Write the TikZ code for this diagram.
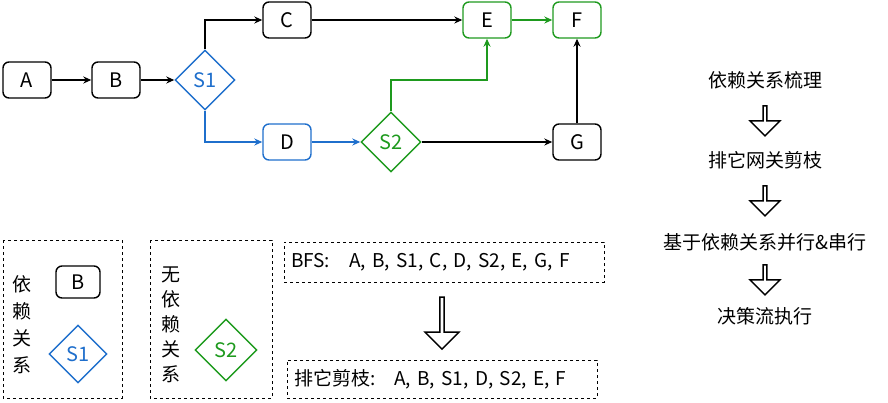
\documentclass[tikz,border=0pt]{standalone}
\usepackage{fontspec}
\setmainfont{Noto Sans CJK SC}
\usetikzlibrary{shapes.geometric,shapes.arrows,arrows.meta}
\definecolor{bl}{HTML}{1F6FCC}
\definecolor{gr}{HTML}{1E9A1E}
\begin{document}
\begin{tikzpicture}[x=1pt,y=-1pt,
  box/.style={draw,rounded corners=6pt,line width=1.4pt,minimum width=48pt,minimum height=36pt,font=\fontsize{20}{20}\selectfont},
  dia/.style={draw,diamond,line width=1.4pt,minimum width=60pt,minimum height=60pt,inner sep=0pt,font=\fontsize{20}{20}\selectfont},
  ln/.style={line width=1.4pt,-{Stealth[length=8pt,width=7pt]}},
  txt/.style={font=\fontsize{19}{19}\selectfont},
  harrow/.style={draw,single arrow,shape border rotate=270,line width=1.4pt,minimum height=30pt,minimum width=30pt,single arrow head extend=5pt,inner sep=0pt},
  dbox/.style={draw,dashed,line width=1pt}]
\useasboundingbox (0,0) rectangle (888,402);
\node[box] (A) at (27,80) {A};
\node[box] (B) at (116,80) {B};
\node[dia,draw=bl,text=bl] (S1) at (205,80) {S1};
\node[box] (C) at (287,20) {C};
\node[box,draw=bl] (D) at (287,142) {D};
\node[dia,draw=gr,text=gr] (S2) at (391,142) {S2};
\node[box,draw=gr] (E) at (487,20) {E};
\node[box,draw=gr] (F) at (577,20) {F};
\node[box] (G) at (577,142) {G};
\draw[ln] (A) -- (B);
\draw[ln] (B) -- (S1);
\draw[ln] (S1.north) |- (C);
\draw[ln,bl] (S1.south) |- (D);
\draw[ln,bl] (D) -- (S2);
\draw[ln,gr] (S2.north) -- (391,80) -| (E.south);
\draw[ln] (S2) -- (G);
\draw[ln] (C) -- (E);
\draw[ln,gr] (E) -- (F);
\draw[ln] (G) -- (F);
% right column
\node[txt] (t1) at (765,80) {依赖关系梳理};
\node[harrow] (a1) at (765,120) {};
\node[txt] (t2) at (765,160) {排它网关剪枝};
\node[harrow] (a2) at (765,200) {};
\node[txt] (t3) at (765,242) {基于依赖关系并行\&串行};
\node[harrow] (a3) at (765,279) {};
\node[txt] (t4) at (765,316) {决策流执行};
% legend boxes
\draw[dbox] (3,240) rectangle (122,398);
\node[txt,align=center,font=\fontsize{19}{27}\selectfont] (v1) at (22,325) {依\\赖\\关\\系};
\node[box,minimum width=44pt,minimum height=32pt] (Bl) at (78,282) {B};
\node[dia,draw=bl,text=bl,minimum width=58pt,minimum height=58pt] (S1l) at (78,354) {S1};
\draw[dbox] (150,240) rectangle (272,398);
\node[txt,align=center,font=\fontsize{19}{25}\selectfont] (v2) at (171,325) {无\\依\\赖\\关\\系};
\node[dia,draw=gr,text=gr,minimum width=62pt,minimum height=62pt] (S2l) at (226,350) {S2};
\node[dbox,txt,minimum width=320pt,minimum height=40pt,text width=306pt,align=left] (bfs) at (444,262) {BFS:\ \ \ A, B, S1, C, D, S2, E, G, F};
\node[harrow,minimum height=52pt,minimum width=34pt,single arrow head extend=5pt] (a4) at (442,322) {};
\node[dbox,txt,minimum width=310pt,minimum height=38pt,text width=296pt,align=left] (prune) at (442,379) {排它剪枝:\ \ \ A, B, S1, D, S2, E, F};
\end{tikzpicture}
\end{document}
